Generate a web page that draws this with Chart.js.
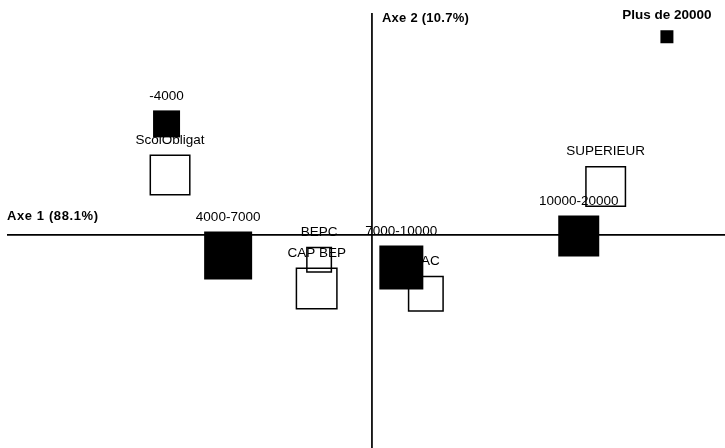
<!DOCTYPE html>
<html><head><meta charset="utf-8">
<script src="https://cdn.jsdelivr.net/npm/chart.js@4.4.0/dist/chart.umd.min.js"></script>
<style>html,body{margin:0;padding:0;background:#fff;} #wrap{width:725px;height:448px;}</style>
</head><body><div id="wrap"><canvas id="c" width="725" height="448"></canvas></div>
<script>
// Income categories (filled squares)
const incomeLabels = ['-4000','4000-7000','7000-10000','10000-20000','Plus de 20000'];
const incomeAxe1 = [-0.587,-0.411,0.084,0.591,0.843];
const incomeAxe2 = [0.317,-0.059,-0.093,-0.003,0.566];
const incomeWeights = [2.7,4.8,4.4,4.1,1.3];
// Education categories (open squares)
const eduLabels = ['ScolObligat','BEPC','CAP BEP','BAC','SUPERIEUR'];
const eduAxe1 = [-0.577,-0.151,-0.158,0.154,0.668];
const eduAxe2 = [0.171,-0.071,-0.153,-0.168,0.138];
const eduWeights = [4.1,2.6,4.2,3.6,4.1];
const axisTitles = ['Axe 1 (88.1%)','Axe 2 (10.7%)'];

const X_MIN = -1.063, X_MAX = 1.009, Y_MIN = -0.609, Y_MAX = 0.671;
const H_START = -1.043, V_TOP = 0.634;

function sidePx(w){ return w*10; }
function toPts(xs, ys){ return xs.map((x,i)=>({x:x, y:ys[i]})); }

const labelPlugin = {
  id:'labels',
  beforeDatasetsDraw(chart){
    const ctx = chart.ctx;
    const xs = chart.scales.x, ys = chart.scales.y;
    ctx.save();
    ctx.fillStyle = '#000';
    ctx.textAlign = 'center';
    ctx.textBaseline = 'middle';
    const groups = [[0, incomeLabels, incomeWeights],[1, eduLabels, eduWeights]];
    groups.forEach(([di, labs, ws])=>{
      const meta = chart.getDatasetMeta(di);
      meta.data.forEach((el,i)=>{
        const bold = labs[i]==='Plus de 20000';
        ctx.font = (bold?'bold ':'') + '13.5px "Liberation Sans", Arial, sans-serif';
        ctx.fillText(labs[i], el.x, el.y - sidePx(ws[i])/2 - 14.5);
      });
    });
    ctx.font = 'bold 13px "Liberation Sans", Arial, sans-serif';
    ctx.textAlign = 'left';
    try { ctx.letterSpacing = '0.6px'; } catch(e) {}
    ctx.fillText(axisTitles[0], xs.getPixelForValue(H_START), ys.getPixelForValue(0) - 18);
    try { ctx.letterSpacing = '0.25px'; } catch(e) {}
    ctx.fillText(axisTitles[1], xs.getPixelForValue(0) + 10, ys.getPixelForValue(V_TOP) + 5.5);
    ctx.restore();
  }
};

new Chart(document.getElementById('c'), {
  type:'scatter',
  data:{
    datasets:[
      { label:'Revenu', data: toPts(incomeAxe1, incomeAxe2), order:1,
        pointStyle:'rect', pointRadius: incomeWeights.map(w=>sidePx(w)/Math.SQRT2),
        backgroundColor:'#000', borderColor:'#000', borderWidth:0 },
      { label:'Diplome', data: toPts(eduAxe1, eduAxe2), order:2,
        pointStyle:'rect', pointRadius: eduWeights.map(w=>(sidePx(w)-1.5)/Math.SQRT2),
        backgroundColor:'rgba(0,0,0,0)', borderColor:'#000', borderWidth:1.5 },
      { type:'line', label:'h', data:[{x:H_START,y:0},{x:X_MAX,y:0}], order:3,
        borderColor:'#000', borderWidth:1.7, pointRadius:0, fill:false },
      { type:'line', label:'v', data:[{x:0,y:V_TOP},{x:0,y:Y_MIN}], order:3,
        borderColor:'#000', borderWidth:1.7, pointRadius:0, fill:false }
    ]
  },
  options:{
    responsive:false, animation:false,
    layout:{padding:0, autoPadding:false},
    plugins:{legend:{display:false}, tooltip:{enabled:false}},
    scales:{
      x:{type:'linear', min:X_MIN, max:X_MAX, display:false},
      y:{type:'linear', min:Y_MIN, max:Y_MAX, display:false}
    }
  },
  plugins:[labelPlugin]
});
</script>
</body></html>
